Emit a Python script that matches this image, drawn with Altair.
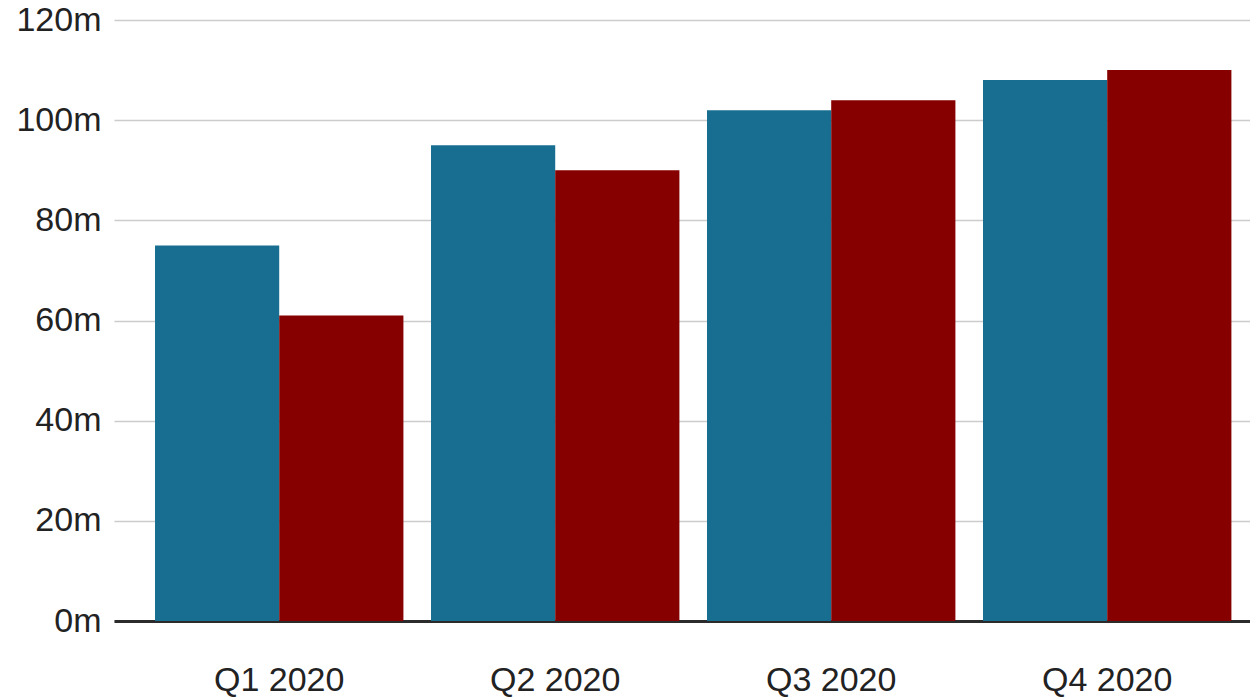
import altair as alt
import pandas as pd

quarters = ["Q1 2020", "Q2 2020", "Q3 2020", "Q4 2020"]
series_names = ["Series A", "Series B"]
series_a = [75, 95, 102, 108]
series_b = [61, 90, 104, 110]
colors = ["#176e91", "#860000"]
y_ticks = [0, 20, 40, 60, 80, 100, 120]

rows = []
for q, a, b in zip(quarters, series_a, series_b):
    rows.append({"quarter": q, "series": series_names[0], "value": a})
    rows.append({"quarter": q, "series": series_names[1], "value": b})
df = pd.DataFrame(rows)

FONT = "Liberation Sans"

chart = alt.Chart(df).mark_bar().encode(
    x=alt.X(
        "quarter:N",
        sort=quarters,
        title=None,
        scale=alt.Scale(paddingInner=0.1, paddingOuter=0.108, align=0.688),
        axis=alt.Axis(
            labelAngle=0,
            labelFont=FONT,
            labelFontSize=34,
            labelColor="#222222",
            labelPadding=42,
            ticks=False,
            domain=True,
            domainColor="#2b2b2b",
            domainWidth=3,
            grid=False,
        ),
    ),
    xOffset=alt.XOffset(
        "series:N",
        sort=series_names,
        scale=alt.Scale(paddingInner=0, paddingOuter=0),
    ),
    y=alt.Y(
        "value:Q",
        title=None,
        scale=alt.Scale(domain=[0, 120], nice=False),
        axis=alt.Axis(
            values=y_ticks,
            labelExpr="datum.value + 'm'",
            labelFont=FONT,
            labelFontSize=34,
            labelColor="#222222",
            labelPadding=13,
            ticks=False,
            domain=False,
            grid=True,
            gridColor="#cccccc",
            gridWidth=1.5,
        ),
    ),
    color=alt.Color(
        "series:N",
        sort=series_names,
        scale=alt.Scale(domain=series_names, range=colors),
        legend=None,
    ),
).properties(
    width=1136,
    height=601,
    autosize=alt.AutoSizeParams(type="none"),
    padding={"left": 106, "top": 12, "right": 0, "bottom": 79},
).configure_view(stroke=None)

chart.save("out.html", embed_options={"renderer": "svg", "actions": False})
